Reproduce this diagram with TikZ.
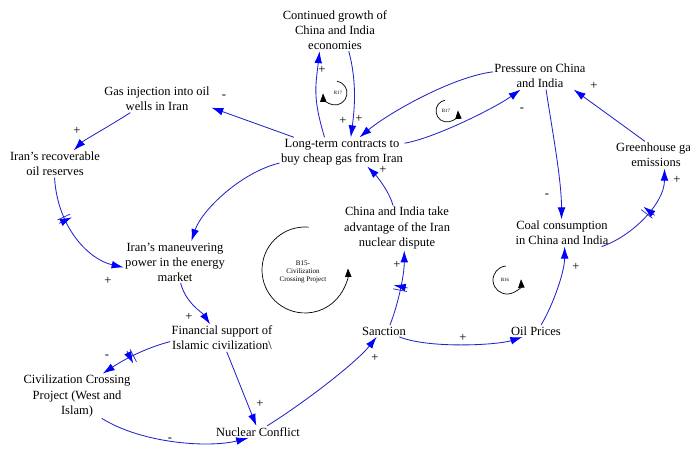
\documentclass[tikz,border=0pt]{standalone}
\usepackage{fontspec}
\setmainfont{Liberation Serif}
\usetikzlibrary{arrows.meta, decorations.markings}
\definecolor{linkblue}{RGB}{35,35,200}
\tikzstyle{var} = [align=center, inner sep=1pt, font=\fontsize{8.9}{10.7}\selectfont]
\tikzstyle{pol} = [inner sep=0pt, font=\fontsize{9}{9}\selectfont]
\tikzstyle{link} = [draw=linkblue, line width=0.6pt, -{Latex[length=8.5pt,width=5.5pt,color=blue]}]
\tikzstyle{loop} = [draw=black, line width=0.5pt, -{Triangle[length=6pt,width=4.5pt]}]
\tikzstyle{looplabel} = [inner sep=0pt, align=center, font=\fontsize{3.5}{4}\selectfont]
\tikzset{delaymark/.style={postaction={decorate}, decoration={markings, mark=at position #1 with {\draw[linkblue, line width=0.5pt] (-1.3pt,-5pt) -- (-1.3pt,5pt) (1.3pt,-5pt) -- (1.3pt,5pt);}}}}

\begin{document}
\begin{tikzpicture}[x=0.025cm, y=0.025cm]
   \useasboundingbox (0,0) rectangle (690,452);

   % variables
   \node (cg) [var] at (335,422) {Continued growth of\\China and India\\economies};
   \node (pr) [var] at (540,376) {Pressure on China\\and India};
   \node (gi) [var] at (157,353) {Gas injection into oil\\wells in Iran};
   \node (lt) [var] at (342,300) {Long-term contracts to\\buy cheap gas from Iran};
   \node (rr) [var] at (55,288) {Iran's recoverable\\oil reserves};
   \node (gh) [var] at (656,297) {Greenhouse gas\\emissions};
   \node (ta) [var] at (397,224) {China and India take\\advantage of the Iran\\nuclear dispute};
   \node (cc) [var] at (562,219) {Coal consumption\\in China and India};
   \node (mp) [var] at (175,190) {Iran's maneuvering\\power in the energy\\market};
   \node (fs) [var] at (222,114) {Financial support of\\Islamic civilization\textbackslash};
   \node (sa) [var] at (384,121) {Sanction};
   \node (op) [var] at (536,121) {Oil Prices};
   \node (cp) [var] at (77,56) {Civilization Crossing\\Project (West and\\Islam)};
   \node (nc) [var] at (258,20) {Nuclear Conflict};

   % links
   \draw [link] (lt.140) .. controls +(-12,40) and +(-4,-35) .. (cg.234);
   \draw [link] (cg.303) .. controls +(8,-30) and +(4,30) .. (lt.59);
   \draw [link] (pr.175) .. controls +(-40,-5) and +(30,25) .. (lt.40);
   \draw [link] (lt.8) .. controls +(30,5) and +(-25,-18) .. (pr.215);
   \draw [link] (lt.163) -- (gi.351);
   \draw [link] (gi.207) .. controls +(-15,-10) and +(10,10) .. (rr.36);
   \draw [link, delaymark=0.35] (rr.268) .. controls +(3,-50) and +(-35,8) .. (mp.186);
   \draw [link] (lt.190) .. controls +(-40,-10) and +(10,30) .. (mp.52);
   \draw [link] (mp.285) .. controls +(5,-20) and +(-8,12) .. (fs.131);
   \draw [link, delaymark=0.55] (fs.184) .. controls +(-30,-8) and +(15,10) .. (cp.41);
   \draw [link] (fs.289) -- (nc.105);
   \draw [link] (cp.318) .. controls +(40,-25) and +(-40,-10) .. (nc.212);
   \draw [link] (nc.34) .. controls +(40,25) and +(-20,-25) .. (sa.219);
   \draw [link, delaymark=0.5] (sa.45) .. controls +(8,20) and +(0,-25) .. (ta.288);
   \draw [link] (ta.100) .. controls +(-4,15) and +(8,-8) .. (lt.330);
   \draw [link] (sa.339) .. controls +(30,-12) and +(-25,-8) .. (op.204);
   \draw [link] (op.50) .. controls +(12,20) and +(0,-25) .. (cc.281);
   \draw [link] (pr.294) .. controls +(6,-40) and +(0,40) .. (cc.92);
   \draw [link, delaymark=0.55] (cc.341) .. controls +(30,10) and +(0,-35) .. (gh.302);
   \draw [link] (gh.129) -- (pr.338);

   % polarities
   \node (s1) [pol] at (322,382) {+};
   \node (s2) [pol] at (343,331) {+};
   \node (s3) [pol] at (359,333) {+};
   \node (s4) [pol] at (522,342) {-};
   \node (s5) [pol] at (224,355) {-};
   \node (s6) [pol] at (77,321) {+};
   \node (s7) [pol] at (108,171) {+};
   \node (s8) [pol] at (189,135) {+};
   \node (s9) [pol] at (107,95) {-};
   \node (s10) [pol] at (260,48) {+};
   \node (s11) [pol] at (170,12) {-};
   \node (s12) [pol] at (375,94) {+};
   \node (s13) [pol] at (397,187) {+};
   \node (s14) [pol] at (383,282) {+};
   \node (s15) [pol] at (463,114) {+};
   \node (s16) [pol] at (576,185) {+};
   \node (s17) [pol] at (547,256) {-};
   \node (s18) [pol] at (677,272) {+};
   \node (s19) [pol] at (594,366) {+};

   % loops
   \node (r17) [looplabel] at (338,359) {R17};
   \draw [loop] (335,359) ++(80:12) arc[start angle=80, end angle=-178, radius=12];
   \node (b17) [looplabel] at (446,341) {B17};
   \draw [loop] (447,341) ++(100:11) arc[start angle=100, end angle=363, radius=11];
   \node (b16) [looplabel] at (505,172) {B16};
   \draw [loop] (507,172) ++(95:14) arc[start angle=95, end angle=363, radius=14];
   \node (b15) [looplabel, font=\fontsize{5}{6}\selectfont] at (303,180) {B15-\\Civilization\\Crossing Project};
   \draw [loop] (305,182) ++(85:43) arc[start angle=85, end angle=362, radius=43];
\end{tikzpicture}
\end{document}
